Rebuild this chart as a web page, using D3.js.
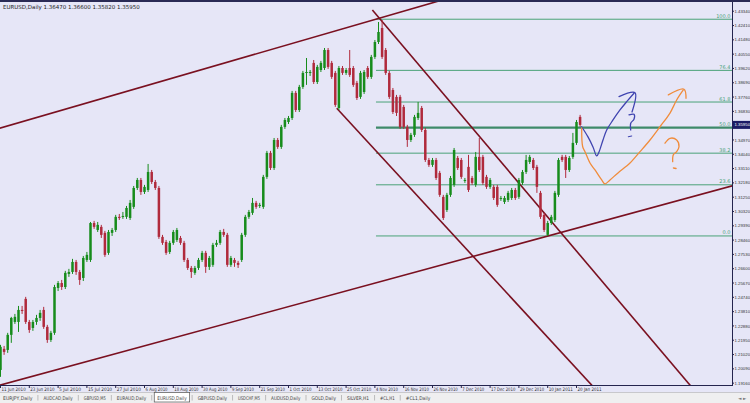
<!DOCTYPE html>
<html>
<head>
<meta charset="utf-8">
<script src="https://cdn.jsdelivr.net/npm/d3@7"></script>
<style>
  html, body { margin: 0; padding: 0; background: #e6e6f7; }
  svg { display: block; font-family: "DejaVu Sans", sans-serif; }
</style>
</head>
<body>
<script>
// EURUSD daily candles, [open, high, low, close]
var ohlc = [
  [1.2002,1.2165,1.1957,1.2152],[1.2139,1.2158,1.2100,1.2119],[1.2132,1.2243,1.2113,1.2230],[1.2230,1.2347,1.2178,1.2340],
  [1.2314,1.2366,1.2301,1.2347],[1.2314,1.2418,1.2249,1.2392],[1.2392,1.2418,1.2366,1.2385],[1.2464,1.2477,1.2301,1.2314],
  [1.2314,1.2327,1.2243,1.2262],[1.2275,1.2327,1.2256,1.2314],[1.2314,1.2360,1.2295,1.2340],[1.2340,1.2392,1.2321,1.2373],
  [1.2392,1.2412,1.2269,1.2282],[1.2282,1.2295,1.2178,1.2197],[1.2197,1.2256,1.2184,1.2243],[1.2243,1.2555,1.2230,1.2541],
  [1.2535,1.2580,1.2515,1.2567],[1.2567,1.2587,1.2522,1.2541],[1.2541,1.2646,1.2528,1.2633],[1.2626,1.2659,1.2607,1.2639],
  [1.2639,1.2724,1.2626,1.2704],[1.2704,1.2717,1.2620,1.2639],[1.2639,1.2652,1.2555,1.2587],[1.2600,1.2743,1.2580,1.2730],
  [1.2717,1.2769,1.2704,1.2750],[1.2717,1.2964,1.2704,1.2957],[1.2957,1.2971,1.2919,1.2932],[1.2912,1.2964,1.2899,1.2945],
  [1.2932,1.2945,1.2860,1.2880],[1.2893,1.2906,1.2737,1.2750],[1.2763,1.2912,1.2750,1.2899],[1.2893,1.2925,1.2873,1.2912],
  [1.2912,1.3010,1.2899,1.2997],[1.2997,1.3016,1.2977,1.2990],[1.2997,1.3029,1.2984,1.3003],[1.2997,1.3068,1.2984,1.3055],
  [1.2990,1.3107,1.2977,1.3088],[1.3062,1.3198,1.3049,1.3185],[1.3185,1.3250,1.3172,1.3237],[1.3237,1.3250,1.3140,1.3159],
  [1.3159,1.3205,1.3146,1.3192],[1.3172,1.3341,1.3159,1.3289],[1.3289,1.3302,1.3211,1.3224],[1.3224,1.3237,1.3172,1.3185],
  [1.3185,1.3198,1.2854,1.2867],[1.2867,1.2880,1.2815,1.2828],[1.2834,1.2847,1.2750,1.2763],[1.2769,1.2841,1.2756,1.2828],
  [1.2828,1.2912,1.2815,1.2899],[1.2847,1.2925,1.2834,1.2912],[1.2860,1.2873,1.2815,1.2828],[1.2828,1.2841,1.2704,1.2717],
  [1.2717,1.2730,1.2652,1.2665],[1.2665,1.2678,1.2600,1.2639],[1.2633,1.2678,1.2620,1.2665],[1.2665,1.2730,1.2652,1.2717],
  [1.2717,1.2776,1.2704,1.2763],[1.2763,1.2776,1.2633,1.2672],[1.2672,1.2743,1.2652,1.2730],[1.2685,1.2828,1.2672,1.2815],
  [1.2815,1.2847,1.2802,1.2828],[1.2828,1.2912,1.2815,1.2899],[1.2899,1.2919,1.2867,1.2880],[1.2880,1.2893,1.2672,1.2685],
  [1.2685,1.2743,1.2672,1.2730],[1.2717,1.2730,1.2672,1.2698],[1.2698,1.2711,1.2665,1.2685],[1.2717,1.2893,1.2704,1.2880],
  [1.2880,1.3010,1.2867,1.2997],[1.2997,1.3042,1.2984,1.3029],[1.3023,1.3120,1.3010,1.3088],[1.3088,1.3101,1.3049,1.3062],
  [1.3068,1.3088,1.3055,1.3075],[1.3062,1.3270,1.3049,1.3257],[1.3257,1.3426,1.3244,1.3413],[1.3413,1.3426,1.3302,1.3315],
  [1.3315,1.3510,1.3302,1.3497],[1.3497,1.3510,1.3439,1.3452],[1.3452,1.3595,1.3439,1.3582],[1.3582,1.3640,1.3569,1.3627],
  [1.3614,1.3653,1.3601,1.3640],[1.3640,1.3816,1.3627,1.3803],[1.3803,1.3816,1.3679,1.3692],[1.3692,1.3855,1.3679,1.3842],
  [1.3842,1.3946,1.3829,1.3933],[1.3933,1.4030,1.3855,1.3939],[1.3933,1.3952,1.3913,1.3939],[1.3998,1.4017,1.3861,1.3874],
  [1.3874,1.3985,1.3861,1.3972],[1.3952,1.4011,1.3939,1.3998],[1.3965,1.4095,1.3952,1.4082],[1.4082,1.4095,1.3959,1.3972],
  [1.3998,1.4011,1.3894,1.3907],[1.3933,1.3946,1.3712,1.3725],[1.3705,1.3978,1.3692,1.3965],[1.3965,1.3978,1.3920,1.3933],
  [1.3933,1.3965,1.3920,1.3952],[1.3965,1.4082,1.3907,1.3920],[1.3965,1.3978,1.3842,1.3855],[1.3868,1.3881,1.3757,1.3770],
  [1.3777,1.3946,1.3764,1.3933],[1.3809,1.3952,1.3796,1.3939],[1.3965,1.3978,1.3894,1.3907],[1.3907,1.4050,1.3894,1.4037],
  [1.4037,1.4147,1.4024,1.4134],[1.4134,1.4264,1.4121,1.4199],[1.4225,1.4277,1.4024,1.4037],[1.4082,1.4095,1.3920,1.3933],
  [1.3933,1.3946,1.3764,1.3777],[1.3822,1.3835,1.3666,1.3679],[1.3777,1.3790,1.3653,1.3673],[1.3777,1.3790,1.3569,1.3582],
  [1.3712,1.3725,1.3569,1.3582],[1.3582,1.3595,1.3452,1.3497],[1.3497,1.3543,1.3484,1.3530],[1.3530,1.3660,1.3517,1.3647],
  [1.3640,1.3744,1.3627,1.3673],[1.3705,1.3718,1.3549,1.3562],[1.3562,1.3575,1.3354,1.3367],[1.3367,1.3380,1.3322,1.3335],
  [1.3335,1.3380,1.3322,1.3367],[1.3367,1.3380,1.3237,1.3250],[1.3283,1.3296,1.3127,1.3140],[1.3127,1.3140,1.2977,1.2990],
  [1.3042,1.3153,1.3029,1.3140],[1.3140,1.3263,1.3127,1.3250],[1.3205,1.3445,1.3192,1.3432],[1.3380,1.3393,1.3302,1.3315],
  [1.3367,1.3380,1.3244,1.3257],[1.3231,1.3250,1.3218,1.3237],[1.3322,1.3400,1.3159,1.3172],[1.3250,1.3263,1.3205,1.3218],
  [1.3205,1.3419,1.3192,1.3387],[1.3387,1.3510,1.3289,1.3302],[1.3387,1.3400,1.3205,1.3218],[1.3257,1.3270,1.3179,1.3192],
  [1.3192,1.3250,1.3179,1.3237],[1.3192,1.3205,1.3107,1.3120],[1.3192,1.3205,1.3062,1.3075],[1.3114,1.3133,1.3101,1.3120],
  [1.3094,1.3133,1.3081,1.3120],[1.3107,1.3166,1.3094,1.3153],[1.3120,1.3185,1.3107,1.3172],[1.3172,1.3185,1.3107,1.3120],
  [1.3127,1.3250,1.3114,1.3237],[1.3218,1.3302,1.3205,1.3289],[1.3289,1.3400,1.3276,1.3367],[1.3354,1.3400,1.3341,1.3387],
  [1.3367,1.3380,1.3302,1.3315],[1.3322,1.3335,1.3153,1.3192],[1.3153,1.3166,1.2984,1.2997],[1.3010,1.3023,1.2899,1.2912],
  [1.2880,1.2971,1.2873,1.2957],[1.2957,1.3010,1.2945,1.2997],[1.2977,1.3166,1.2964,1.3153],[1.3140,1.3380,1.3127,1.3367],
  [1.3387,1.3400,1.3354,1.3367],[1.3387,1.3400,1.3250,1.3302],[1.3302,1.3393,1.3289,1.3380],[1.3387,1.3543,1.3374,1.3478],
  [1.3478,1.3627,1.3465,1.3614],[1.3647,1.3660,1.3582,1.3595]
];

// date labels every 8 bars
var dateBars = [0, 8, 16, 24, 32, 40, 48, 56, 64, 72, 80, 88, 96, 104, 112, 120, 128, 136, 144, 152, 160];
var dateLabels = ["11 Jun 2010", "23 Jun 2010", "5 Jul 2010", "15 Jul 2010", "27 Jul 2010", "6 Aug 2010",
  "18 Aug 2010", "30 Aug 2010", "9 Sep 2010", "21 Sep 2010", "1 Oct 2010", "13 Oct 2010", "25 Oct 2010",
  "4 Nov 2010", "16 Nov 2010", "26 Nov 2010", "7 Dec 2010", "17 Dec 2010", "29 Dec 2010", "10 Jan 2011", "20 Jan 2011"];

// price scale labels
var priceTicks = [1.4334, 1.4241, 1.4148, 1.4055, 1.3962, 1.3869, 1.3776, 1.3683, 1.3590, 1.3497, 1.3404,
  1.3311, 1.3218, 1.3125, 1.3032, 1.2939, 1.2846, 1.2753, 1.2660, 1.2567, 1.2474, 1.2381, 1.2288,
  1.2195, 1.2102, 1.2009, 1.1916];

// fibonacci retracement: start bar, high/low anchors, levels in %
var fibStart = 104.3;
var fibHigh = 1.4282, fibLow = 1.2873;
var fibLevels = [0, 23.6, 38.2, 50, 61.8, 76.4, 100];

// trend / channel lines: [bar, price] anchors, ray = only to the right of first point
var channelLines = [
  { a: [0, 1.3575], b: [105, 1.4287], ray: false },
  { a: [0, 1.1904], b: [152, 1.2872], ray: false },
  { a: [103.3, 1.4342], b: [191.5, 1.1904], ray: true },
  { a: [93.4, 1.3703], b: [164.2, 1.1904], ray: true }
];

// hand drawn arrows, [bar, price]
var bluePath = [[161.44,1.3583],[163.19,1.3517],[164.58,1.3452],[165.61,1.3393],[166.25,1.3419],[167.36,1.3497],
  [168.39,1.3562],[170.14,1.3627],[172.08,1.3692],[173.94,1.3746],[175.97,1.3801]];
var blueHead = [[171.81,1.3779],[176.25,1.3804],[175.42,1.3679]];
var blueQuestion = [[174.58,1.3660],[175.97,1.3664],[175.97,1.3632],[175.06,1.3606],[175.06,1.3562]];
var blueDot = [[174.39,1.3518],[175.33,1.3523]];
var orangePath = [[161.44,1.3575],[161.72,1.3453],[162.36,1.3421],[163.75,1.3347],[165.14,1.3302],[167.0,1.3237],
  [167.92,1.3211],[169.31,1.3237],[171.53,1.3283],[174.86,1.3347],[177.64,1.3421],[180.42,1.3497],
  [183.19,1.3583],[185.97,1.3672],[187.83,1.3757],[189.67,1.3822]];
var orangeHead = [[185.5,1.3790],[189.86,1.3827],[190.42,1.3768]];
var orangeQuestion = [[184.58,1.3476],[185.97,1.3508],[187.83,1.3497],[188.47,1.3453],[187.83,1.3421],
  [186.89,1.3400],[186.72,1.3356]];
var orangeDot = [[186.94,1.3315],[187.64,1.3312]];

var tabs = ["EURJPY,Daily", "AUDCAD,Daily", "GBPUSD,M5", "EURAUD,Daily", "EURUSD,Daily", "GBPUSD,Daily",
  "USDCHF,M5", "AUDUSD,Daily", "GOLD,Daily", "SILVER,H1", "#CL,H1", "#CL1,Daily"];
var activeTab = "EURUSD,Daily";

var W = 750, H = 403;
var plotRight = 732.5, plotTop = 2, plotBottom = 385.5;

var bull = "#178c1c", bear = "#b02a3c", chan = "#7a1020", fibColor = "#4aa278";

var svg = d3.select("body").append("svg")
  .attr("width", W)
  .attr("height", H);

svg.append("rect").attr("width", W).attr("height", H).attr("fill", "#e6e6f7");

var x = d3.scaleLinear().domain([0, 200]).range([0.5, 720.5]);
var y = d3.scaleLinear().domain([1.4407, 1.1904]).range([0, 385]);

svg.append("clipPath").attr("id", "plot-clip")
  .append("rect").attr("x", 0).attr("y", plotTop).attr("width", plotRight).attr("height", plotBottom - plotTop);

var plot = svg.append("g").attr("clip-path", "url(#plot-clip)");

// fibo lines
var fibG = plot.append("g");
fibLevels.forEach(function (lv) {
  var p = fibLow + (fibHigh - fibLow) * lv / 100;
  fibG.append("line")
    .attr("x1", x(fibStart)).attr("x2", plotRight)
    .attr("y1", y(p)).attr("y2", y(p))
    .attr("stroke", lv === 50 ? "#3e8a6a" : fibColor)
    .attr("stroke-width", lv === 50 ? 2.4 : 1);
  fibG.append("text")
    .attr("x", plotRight - 2).attr("y", y(p) - 1.5)
    .attr("text-anchor", "end")
    .attr("font-size", 5)
    .attr("fill", fibColor)
    .text(lv.toFixed(1));
});

// channels
function linePoint(l, bar) {
  var t = (bar - l.a[0]) / (l.b[0] - l.a[0]);
  return [x(bar), y(l.a[1] + (l.b[1] - l.a[1]) * t)];
}
channelLines.forEach(function (l) {
  var p1 = linePoint(l, l.ray ? l.a[0] : -20);
  var p2 = linePoint(l, 260);
  plot.append("line")
    .attr("x1", p1[0]).attr("y1", p1[1])
    .attr("x2", p2[0]).attr("y2", p2[1])
    .attr("stroke", chan)
    .attr("stroke-width", 1.6);
});

// candles
var bw = 2.5;
plot.selectAll(".wick")
  .data(ohlc)
  .enter().append("line")
  .attr("class", "wick")
  .attr("x1", function (d, i) { return x(i); })
  .attr("x2", function (d, i) { return x(i); })
  .attr("y1", function (d) { return y(d[1]); })
  .attr("y2", function (d) { return y(d[2]); })
  .attr("stroke", function (d) { return d[3] >= d[0] ? bull : bear; })
  .attr("stroke-width", 1);

plot.selectAll(".body")
  .data(ohlc)
  .enter().append("rect")
  .attr("class", "body")
  .attr("x", function (d, i) { return x(i) - bw / 2; })
  .attr("y", function (d) { return y(Math.max(d[0], d[3])); })
  .attr("width", bw)
  .attr("height", function (d) { return Math.max(1, Math.abs(y(d[0]) - y(d[3]))); })
  .attr("fill", function (d) { return d[3] >= d[0] ? bull : bear; });

// hand drawn marks
var pen = d3.line()
  .x(function (d) { return x(d[0]); })
  .y(function (d) { return y(d[1]); })
  .curve(d3.curveCatmullRom);

function stroke(pts, color, w) {
  plot.append("path")
    .datum(pts)
    .attr("d", pen)
    .attr("fill", "none")
    .attr("stroke", color)
    .attr("stroke-width", w)
    .attr("stroke-linecap", "round")
    .attr("stroke-linejoin", "round");
}
var blue = "#4045b0", orange = "#f08c3c";
stroke(bluePath, blue, 1.3);
stroke(blueHead, blue, 1.3);
stroke(blueQuestion, blue, 1.3);
stroke(blueDot, blue, 1.1);
stroke(orangePath, orange, 1.3);
stroke(orangeHead, orange, 1.3);
stroke(orangeQuestion, orange, 1.3);
stroke(orangeDot, orange, 1.5);

// frame
var frame = svg.append("g").attr("stroke", "#24244e").attr("stroke-width", 1).attr("shape-rendering", "crispEdges");
frame.append("line").attr("x1", plotRight).attr("x2", plotRight).attr("y1", plotTop).attr("y2", plotBottom);
frame.append("line").attr("x1", 0).attr("x2", plotRight).attr("y1", plotBottom).attr("y2", plotBottom);

// top strip and title
svg.append("rect").attr("x", 0).attr("y", 0).attr("width", W).attr("height", 2).attr("fill", "#2a2a55");
svg.append("text")
  .attr("x", 3).attr("y", 9)
  .attr("font-size", 5.5)
  .attr("fill", "#222")
  .text("EURUSD,Daily  1.36470 1.36600 1.35820 1.35950");

// price scale
var pAxis = svg.append("g")
  .attr("font-family", "'Liberation Sans', sans-serif")
  .attr("font-size", 4.3);
pAxis.selectAll("text")
  .data(priceTicks)
  .enter().append("text")
  .attr("x", 734.5)
  .attr("y", function (d) { return y(d) + 1.6; })
  .attr("fill", "#333")
  .text(function (d) { return d.toFixed(5); });
pAxis.selectAll("line")
  .data(priceTicks)
  .enter().append("line")
  .attr("x1", plotRight).attr("x2", plotRight + 1.5)
  .attr("y1", function (d) { return y(d); })
  .attr("y2", function (d) { return y(d); })
  .attr("stroke", "#24244e");

var last = ohlc[ohlc.length - 1][3];
pAxis.append("rect")
  .attr("x", plotRight).attr("y", y(last) - 4).attr("width", W - plotRight).attr("height", 8)
  .attr("fill", "#1c1c66");
pAxis.append("text")
  .attr("x", 734.5).attr("y", y(last) + 1.6)
  .attr("fill", "#fff")
  .text(last.toFixed(5));

// time scale
var tAxis = svg.append("g");
dateBars.forEach(function (b, i) {
  tAxis.append("line")
    .attr("x1", x(b)).attr("x2", x(b))
    .attr("y1", plotBottom).attr("y2", plotBottom + 2.5)
    .attr("stroke", "#24244e");
  tAxis.append("text")
    .attr("x", x(b) + 1).attr("y", 391)
    .attr("font-size", 4.8)
    .attr("textLength", dateLabels[i].length * 2.2)
    .attr("lengthAdjust", "spacingAndGlyphs")
    .attr("fill", "#333")
    .text(dateLabels[i]);
});

// tab strip
var tabG = svg.append("g");
tabG.append("rect").attr("x", 0).attr("y", 392).attr("width", W).attr("height", 11).attr("fill", "#efeff0");
tabG.append("line").attr("x1", 0).attr("x2", W).attr("y1", 392.5).attr("y2", 392.5).attr("stroke", "#c8c8cc");
var tx = 3;
tabs.forEach(function (t, i) {
  var tl = t.length * 2.45;
  if (t === activeTab) {
    tabG.append("rect").attr("x", tx - 3).attr("y", 392.5).attr("width", tl + 6).attr("height", 9.5)
      .attr("fill", "#fff").attr("stroke", "#555").attr("stroke-width", 0.7);
  }
  tabG.append("text")
    .attr("x", tx).attr("y", 399.5)
    .attr("font-size", 5)
    .attr("textLength", tl)
    .attr("lengthAdjust", "spacingAndGlyphs")
    .attr("fill", "#444")
    .text(t);
  if (i < tabs.length - 1) {
    tabG.append("line")
      .attr("x1", tx + tl + 5.5).attr("x2", tx + tl + 5.5)
      .attr("y1", 395).attr("y2", 400.5)
      .attr("stroke", "#999").attr("stroke-width", 0.6);
  }
  tx += tl + 11;
});
tabG.append("text").attr("x", 738).attr("y", 399.5).attr("font-size", 4.5).attr("fill", "#777").text("\u25C4 \u25BA");
</script>
</body>
</html>
